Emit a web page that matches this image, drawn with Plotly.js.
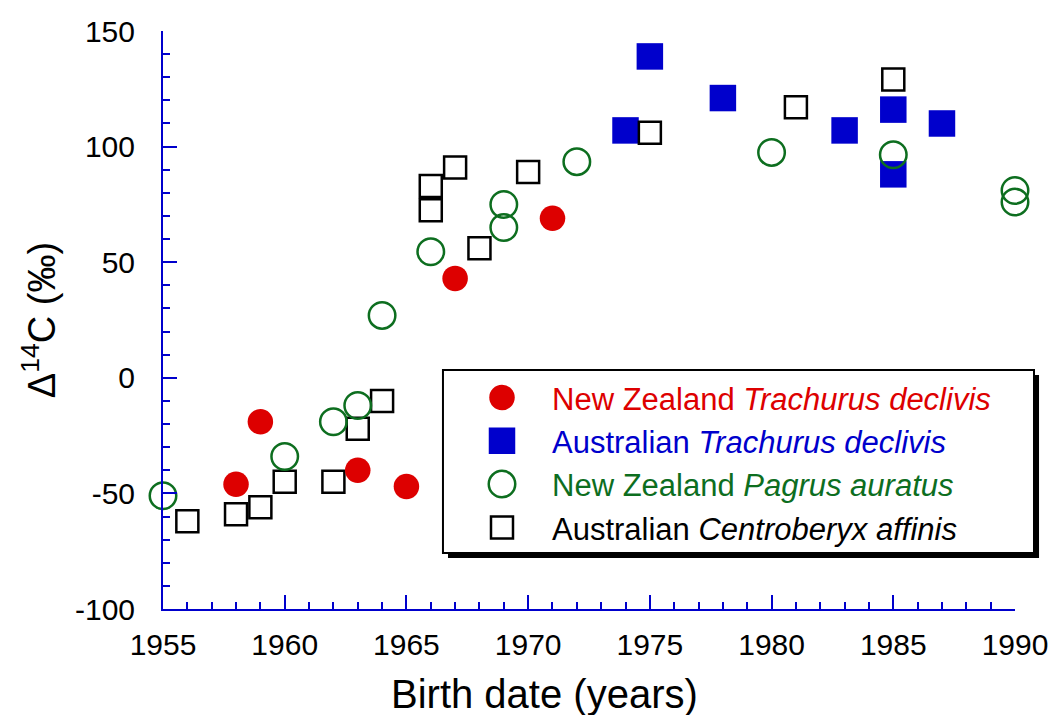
<!DOCTYPE html>
<html>
<head>
<meta charset="utf-8">
<script src="https://cdn.plot.ly/plotly-3.0.1.min.js"></script>
<style>html,body{margin:0;padding:0;background:#fff;}#chart{width:1051px;height:715px;}</style>
</head>
<body>
<div id="chart"></div>
<script>
// ---- data ----
const nzTrachurusYears  = [1958, 1959, 1963, 1965, 1967, 1971];
const nzTrachurusD14C   = [-46, -19, -40, -47, 43, 69];

const auTrachurusYears  = [1974, 1975, 1978, 1983, 1985, 1985, 1987];
const auTrachurusD14C   = [107, 139, 121, 107, 116, 88, 110];

const nzPagrusYears     = [1955, 1960, 1962, 1963, 1964, 1966, 1969, 1969, 1972, 1980, 1985, 1990, 1990];
const nzPagrusD14C      = [-51, -34, -19, -12, 27, 54.5, 75, 65, 93.5, 97.5, 96.5, 81, 76];

const auCentroberyxYears = [1956, 1958, 1959, 1960, 1962, 1963, 1964, 1966, 1966, 1967, 1968, 1970, 1975, 1981, 1985];
const auCentroberyxD14C  = [-62, -59, -56, -45, -45, -22, -10, 83, 72.5, 91, 56, 89, 106, 117, 129];

const seriesNames = [
  '<span style="color:#dd0000">New Zealand <i>Trachurus declivis</i></span>',
  '<span style="color:#0000cc">Australian <i>Trachurus declivis</i></span>',
  '<span style="color:#0d6e1f">New Zealand <i>Pagrus auratus</i></span>',
  '<span style="color:#000000">Australian <i>Centroberyx affinis</i></span>'
];

const xTickVals = [1955, 1960, 1965, 1970, 1975, 1980, 1985, 1990];
const yTickVals = [-100, -50, 0, 50, 100, 150];
const yTickText = ['-100', '-50', '0', '50', '100', '150'];

// ---- styles ----
const RED = '#dd0000', BLUE = '#0000cc', GREEN = '#0d6e1f', AXIS = '#0000cc';
const FONT = 'Liberation Sans, Arial, Helvetica, sans-serif';

const traces = [
  {x: auTrachurusYears, y: auTrachurusD14C, name: seriesNames[1], legendrank: 2,
   type: 'scatter', mode: 'markers', cliponaxis: false,
   marker: {symbol: 'square', size: 26.5, color: BLUE, line: {width: 0}}},
  {x: auCentroberyxYears, y: auCentroberyxD14C, name: seriesNames[3], legendrank: 4,
   type: 'scatter', mode: 'markers', cliponaxis: false,
   marker: {symbol: 'square-open', size: 22, color: '#000000', line: {width: 2.5}}},
  {x: nzPagrusYears, y: nzPagrusD14C, name: seriesNames[2], legendrank: 3,
   type: 'scatter', mode: 'markers', cliponaxis: false,
   marker: {symbol: 'circle-open', size: 26.5, color: GREEN, line: {width: 2.5}}},
  {x: nzTrachurusYears, y: nzTrachurusD14C, name: seriesNames[0], legendrank: 1,
   type: 'scatter', mode: 'markers', cliponaxis: false,
   marker: {symbol: 'circle', size: 25.5, color: RED, line: {width: 0}}}
];

const layout = {
  width: 1051, height: 715,
  margin: {l: 163, r: 36, t: 31, b: 106},
  paper_bgcolor: '#ffffff', plot_bgcolor: '#ffffff',
  font: {family: FONT, color: '#000000'},
  showlegend: true,
  legend: {
    x: 0.3392, y: 0.412, xanchor: 'left', yanchor: 'top',
    bgcolor: 'rgba(0,0,0,0)', borderwidth: 0,
    font: {family: FONT, size: 31},
    itemwidth: 90, traceorder: 'normal'
  },
  xaxis: {
    range: [1955, 1990], showgrid: false, zeroline: false,
    showline: true, linecolor: AXIS, linewidth: 2,
    tickmode: 'array', tickvals: xTickVals,
    ticks: 'inside', ticklen: 14, tickwidth: 2, tickcolor: AXIS,
    minor: {dtick: 1, tick0: 1955, ticks: 'inside', ticklen: 7, tickwidth: 2, tickcolor: AXIS, showgrid: false},
    tickfont: {family: FONT, size: 30, color: '#000000'},
    ticklabelstandoff: 8
  },
  yaxis: {
    range: [-100, 150], showgrid: false, zeroline: false,
    showline: true, linecolor: AXIS, linewidth: 2,
    tickmode: 'array', tickvals: yTickVals, ticktext: yTickText,
    ticks: 'inside', ticklen: 14, tickwidth: 2, tickcolor: AXIS,
    minor: {dtick: 10, tick0: -100, ticks: 'inside', ticklen: 7, tickwidth: 2, tickcolor: AXIS, showgrid: false},
    tickfont: {family: FONT, size: 30, color: '#000000'},
    ticklabelstandoff: 20,
    title: {text: 'Δ<sup>14</sup>C (‰)', font: {family: FONT, size: 38, color: '#000000'}, standoff: 8}
  },
  shapes: [
    {type: 'rect', xref: 'paper', yref: 'paper', layer: 'above',
     x0: 0.3345, x1: 1.0282, y0: 0.0882, y1: 0.4048,
     fillcolor: '#000000', line: {width: 0}},
    {type: 'rect', xref: 'paper', yref: 'paper', layer: 'above',
     x0: 0.3286, x1: 1.0223, y0: 0.0969, y1: 0.4135,
     fillcolor: '#ffffff', line: {color: '#000000', width: 2}}
  ],
  annotations: [
    {text: 'Birth date (years)', xref: 'paper', yref: 'paper',
     x: 0.448, y: -0.147, xanchor: 'center', yanchor: 'middle', showarrow: false,
     font: {family: FONT, size: 40, color: '#000000'}}
  ]
};

Plotly.newPlot('chart', traces, layout, {displayModeBar: false, staticPlot: true}).then(function (gd) {
  // Plotly caps legend symbols at 16px; enlarge them to the trace marker size as in the reference.
  gd.querySelectorAll('.legend g.traces').forEach(function (g) {
    var d = g.__data__;
    if (!d || !d[0] || !d[0].trace) return;
    var tr = d[0].trace;
    var k = tr.marker.size / 16;
    g.querySelectorAll('path.scatterpts').forEach(function (p) {
      var t = p.getAttribute('transform') || '';
      p.setAttribute('transform', t + ' scale(' + k + ')');
      var lw = tr.marker.line && tr.marker.line.width ? tr.marker.line.width : 0;
      if (lw) p.style.strokeWidth = (lw / k) + 'px';
    });
  });
});
</script>
</body>
</html>
